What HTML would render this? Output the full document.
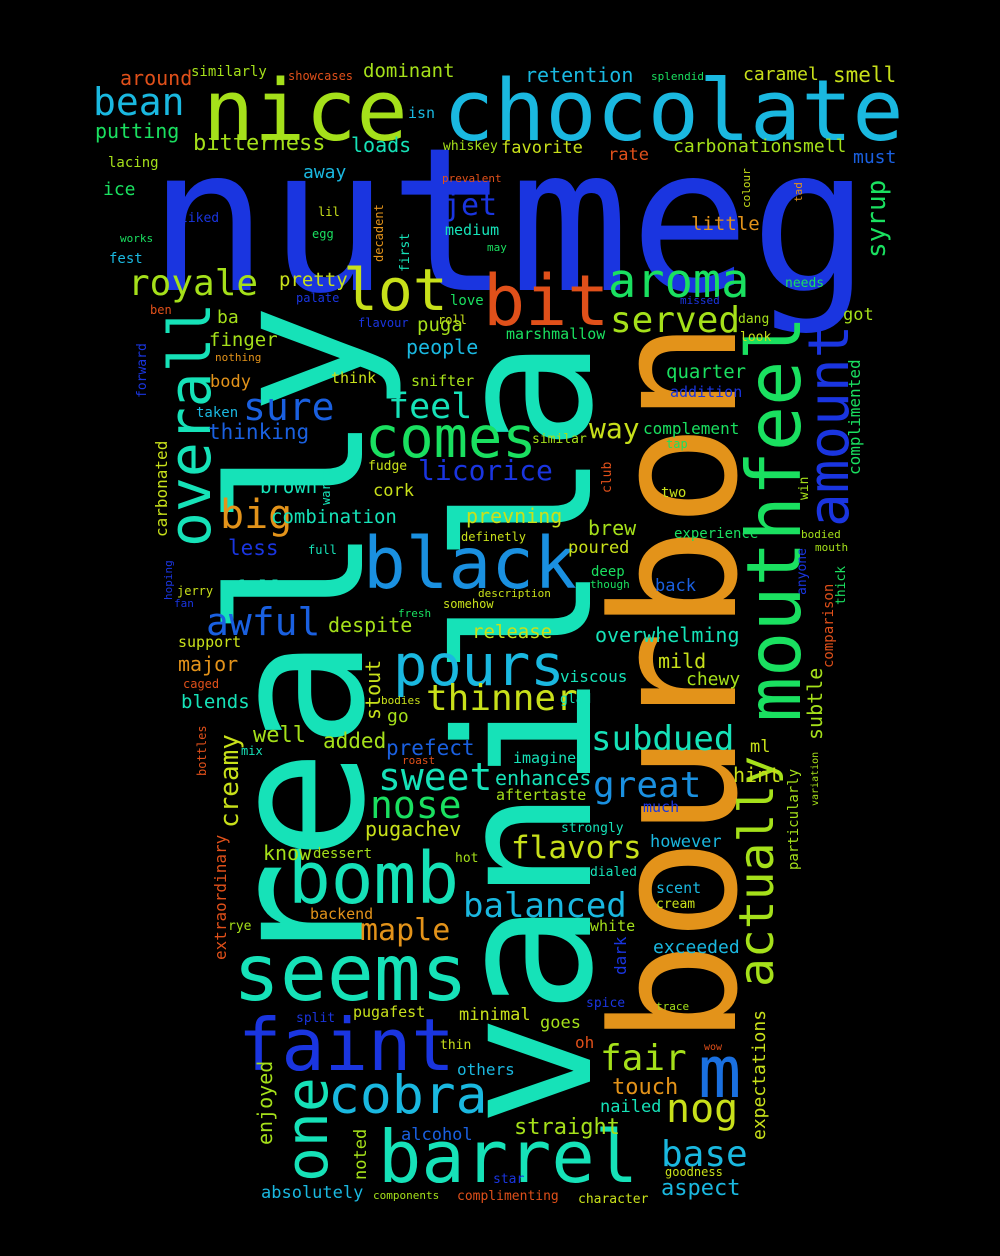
<!DOCTYPE html>
<html><head><meta charset="utf-8">
<style>
html,body{margin:0;padding:0;background:#000;}
svg{display:block;}
text{font-family:"DejaVu Sans Mono","Liberation Mono",monospace;}
</style></head>
<body>
<svg id="cloud" width="1000" height="1256" viewBox="0 0 1000 1256" xmlns="http://www.w3.org/2000/svg">
<rect width="1000" height="1256" fill="#000"/>
</svg>
<script>
const B='#1a35e0',T='#16e2b8',O='#e3931a',L='#a5e01a',C='#1ab8e0',R='#e0501a',G='#1ae060',Y='#c8e01a';
// [word, x, y, fontSize, color, vertical]
const words=[
["nutmeg",148,290,200,B,0],
["vanilla",590,1127,187,T,1],
["really",362,972,185,T,1],
["bourbon",735,1045,172,O,1],
["mouthfeel",800,722,75,G,1],
["chocolate",443,140,85,C,0],
["nice",203,140,85,L,0],
["black",363,588,71,'#1a90e0',0],
["bomb",288,903,71,T,0],
["seems",233,1000,78,T,0],
["faint",238,1070,72,B,0],
["barrel",378,1182,72,T,0],
["cobra",328,1113,53,C,0],
["pours",393,685,57,C,0],
["comes",365,457,57,G,0],
["bit",483,325,70,R,0],
["lot",343,310,58,Y,0],
["aroma",608,297,47,G,0],
["overall",210,547,58,T,1],
["one",327,1182,58,T,1],
["amount",848,527,56,B,1],
["actually",773,987,48,L,1],
["m",698,1097,72,'#1a70e0',0],
["bean",93,115,38,C,0],
["royale",128,295,36,L,0],
["sure",243,420,38,'#1a60e0',0],
["feel",388,418,35,T,0],
["big",220,528,40,O,0],
["licorice",418,480,28,B,0],
["awful",206,635,38,'#1a60e0',0],
["sweet",378,790,38,T,0],
["nose",370,818,38,G,0],
["thinner",426,710,36,Y,0],
["subdued",591,750,34,T,0],
["great",593,797,36,'#1a90e0',0],
["flavors",511,858,31,Y,0],
["balanced",463,917,34,C,0],
["maple",360,940,30,O,0],
["fair",600,1070,36,L,0],
["nog",666,1122,40,Y,0],
["base",661,1166,36,C,0],
["aspect",661,1195,22,C,0],
["served",610,332,36,L,0],
["way",589,438,28,Y,0],
["jet",443,215,30,B,0],
["syrup",885,258,26,G,1],
["creamy",238,828,26,Y,1],
["straight",514,1134,22,L,0],
["touch",612,1094,22,O,0],
["nailed",600,1112,17,T,0],
["expectations",765,1140,18,Y,1],
["subtle",822,740,20,L,1],
["hint",733,782,20,Y,0],
["enhances",495,785,20,T,0],
["prefect",386,755,21,'#1a60e0',0],
["added",323,748,21,L,0],
["well",253,742,22,L,0],
["stout",380,720,20,Y,1],
["pugachev",365,836,20,Y,0],
["combination",271,523,19,T,0],
["brown",260,493,19,T,0],
["less",228,555,21,B,0],
["follows",233,596,21,T,0],
["despite",328,632,20,L,0],
["release",472,638,19,Y,0],
["overwhelming",595,642,20,T,0],
["mild",658,668,20,Y,0],
["chewy",686,685,18,L,0],
["prevning",466,523,20,Y,0],
["brew",588,535,20,L,0],
["poured",568,553,17,Y,0],
["cork",373,496,17,Y,0],
["people",406,354,20,C,0],
["puga",417,331,19,L,0],
["pretty",279,286,19,Y,0],
["finger",209,346,19,L,0],
["ba",217,323,18,L,0],
["body",210,387,17,O,0],
["thinking",208,439,21,'#1a60e0',0],
["bitterness",193,150,22,L,0],
["putting",95,138,20,G,0],
["around",120,85,20,R,0],
["dominant",363,77,19,L,0],
["retention",525,82,20,C,0],
["caramel",743,80,18,Y,0],
["smell",833,82,21,Y,0],
["carbonationsmell",673,152,18,L,0],
["favorite",501,153,17,Y,0],
["loads",351,152,20,T,0],
["rate",608,160,17,R,0],
["must",853,163,18,'#1a60e0',0],
["little",691,230,19,O,0],
["ice",103,195,18,G,0],
["away",303,178,18,C,0],
["medium",445,235,15,T,0],
["quarter",666,378,19,G,0],
["complement",643,434,16,G,0],
["complimented",860,475,16,G,1],
["got",843,320,17,L,0],
["addition",670,397,15,B,0],
["know",263,860,20,L,0],
["dessert",313,858,14,L,0],
["imagine",513,763,15,T,0],
["aftertaste",496,800,15,L,0],
["much",643,812,15,B,0],
["however",650,847,17,C,0],
["scent",656,893,15,C,0],
["cream",656,908,13,Y,0],
["exceeded",653,953,18,C,0],
["ml",750,752,17,Y,0],
["minimal",459,1020,17,Y,0],
["goes",540,1028,17,L,0],
["oh",575,1048,16,R,0],
["others",457,1075,16,C,0],
["alcohol",401,1140,17,'#1a60e0',0],
["absolutely",261,1198,17,C,0],
["noted",366,1180,17,L,1],
["enjoyed",272,1145,20,L,1],
["pugafest",353,1017,15,Y,0],
["split",296,1022,13,B,0],
["backend",310,919,15,O,0],
["rye",228,930,13,L,0],
["extraordinary",226,960,16,R,1],
["major",178,671,20,O,0],
["blends",181,708,19,T,0],
["support",178,647,15,Y,0],
["carbonated",167,537,16,Y,1],
["dark",626,975,16,B,1],
["white",590,931,15,L,0],
["go",387,722,18,L,0],
["snifter",411,386,15,L,0],
["back",655,591,17,'#1a60e0',0],
["deep",591,576,14,G,0],
["experience",674,538,14,G,0],
["two",661,497,14,Y,0],
["viscous",560,682,16,T,0],
["glad",560,703,13,T,0],
["particularly",798,870,14,L,1],
["comparison",833,668,14,R,1],
["thick",845,605,13,G,1],
["anyone",806,595,13,B,1],
["win",808,500,13,L,1],
["warms",330,505,12,T,1],
["fudge",368,470,13,Y,0],
["similar",532,443,13,L,0],
["think",331,383,15,Y,0],
["marshmallow",506,339,15,G,0],
["lacing",108,167,14,L,0],
["fest",109,263,14,C,0],
["similarly",191,76,14,L,0],
["showcases",288,80,12,R,0],
["isn",408,118,15,C,0],
["whiskey",443,150,13,L,0],
["splendid",651,80,11,G,0],
["hot",455,862,13,L,0],
["dialed",590,876,13,T,0],
["strongly",561,832,13,T,0],
["spice",586,1007,13,B,0],
["trace",656,1010,11,L,0],
["wow",704,1050,10,R,0],
["goodness",665,1176,12,Y,0],
["character",578,1203,13,Y,0],
["complimenting",457,1200,13,R,0],
["components",373,1199,11,L,0],
["star",493,1183,13,B,0],
["thin",440,1049,13,Y,0],
["liked",180,222,13,B,0],
["works",120,242,11,G,0],
["lil",318,216,12,Y,0],
["egg",312,238,12,G,0],
["decadent",383,262,12,O,1],
["first",409,272,13,T,1],
["may",487,251,11,G,0],
["roll",438,324,12,Y,0],
["love",450,305,14,G,0],
["palate",296,302,12,B,0],
["flavour",358,327,12,B,0],
["nothing",215,361,11,O,0],
["forward",146,398,13,B,1],
["ben",150,314,12,R,0],
["taken",196,417,14,C,0],
["full",308,554,12,T,0],
["definetly",461,541,12,Y,0],
["hoping",172,600,11,B,1],
["jerry",177,595,12,Y,0],
["fan",174,607,11,B,0],
["somehow",443,608,12,Y,0],
["fresh",398,617,11,G,0],
["description",478,597,11,Y,0],
["caged",183,688,12,R,0],
["bodies",381,704,11,Y,0],
["roast",402,764,11,R,0],
["mix",241,755,12,T,0],
["bottles",206,776,12,R,1],
["club",611,493,13,R,1],
["tap",666,448,12,G,0],
["mouth",815,551,11,L,0],
["bodied",801,538,11,L,0],
["though",590,588,11,G,0],
["variation",818,806,10,L,1],
["needs",785,287,13,G,0],
["missed",680,304,11,B,0],
["dang",738,323,13,L,0],
["look",740,341,13,Y,0],
["colour",750,208,11,Y,1],
["tad",802,202,11,O,1],
["prevalent",442,182,11,R,0]
];
const svg=document.getElementById('cloud');
const NS='http://www.w3.org/2000/svg';
words.forEach(w=>{
  const t=document.createElementNS(NS,'text');
  t.textContent=w[0];
  t.setAttribute('font-size',w[3]);
  t.setAttribute('fill',w[4]);
  if(w[5]){t.setAttribute('transform','translate('+w[1]+','+w[2]+') rotate(-90)');}
  else{t.setAttribute('x',w[1]);t.setAttribute('y',w[2]);}
  
  
  svg.appendChild(t);
});
</script>
</body></html>
